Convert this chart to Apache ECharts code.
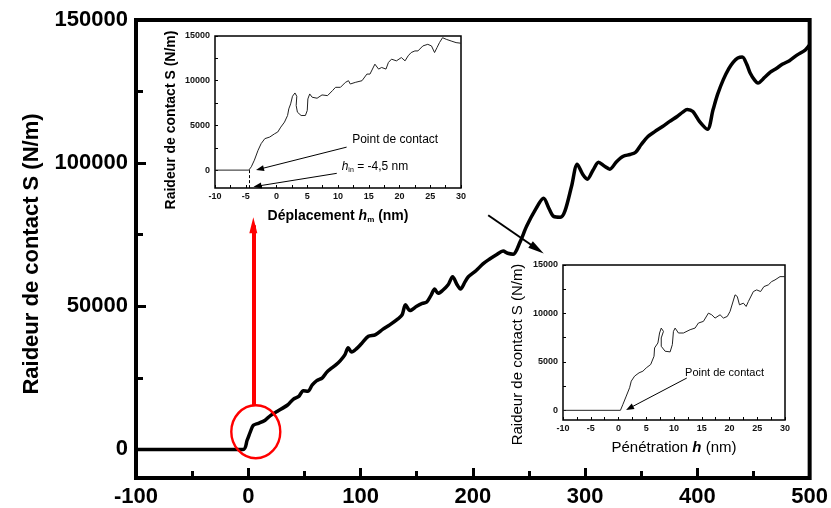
<!DOCTYPE html>
<html>
<head>
<meta charset="utf-8">
<script src="https://cdn.jsdelivr.net/npm/echarts@6/dist/echarts.min.js"></script>
<style>
  html, body { margin: 0; padding: 0; background: #fff; }
  #main { width: 831px; height: 508px; }
</style>
</head>
<body>
<div id="main"></div>
<script>
// courbe principale : raideur de contact S (N/m) en fonction du deplacement (nm)
var mainX = [-100, -4.5, -1, 2, 4.5, 9, 15, 20, 26, 35, 40, 45, 49, 53, 57, 61, 66, 70, 73, 78,
  82, 86, 89, 92, 96, 101, 107, 113, 120, 126, 133, 137, 140, 144, 150, 155, 159, 163, 166, 169,
  173, 178, 182, 186, 189, 193, 196, 203, 209, 215, 221, 227, 231, 236, 242, 248, 256, 263, 268, 272,
  278, 282, 288, 293, 298, 302, 307, 312, 317, 322, 328, 334, 340, 345, 350, 356, 362, 369, 375, 382,
  387, 391, 396, 402, 409, 414, 418, 423, 428, 432, 436, 440, 444, 447, 451, 454, 460, 465, 470, 476,
  482, 489, 496, 500];
var mainY = [0, 0, 3200, 6300, 8400, 9100, 10200, 11900, 13300, 15500, 17500, 18500, 20500, 20300, 22500, 24000, 25000, 27000, 28000, 29500,
  31000, 33000, 35500, 34000, 35000, 37000, 39500, 40000, 42000, 43500, 45500, 47000, 50500, 48500, 50000, 51000, 51500, 54000, 56000, 54500,
  55500, 57500, 60300, 57500, 56000, 58500, 60300, 62500, 64800, 66500, 68000, 69300, 68500, 68200, 72400, 78000, 83900, 87700, 84000, 81400,
  81100, 83200, 92000, 99600, 96000, 94400, 97500, 100300, 99000, 97900, 100500, 102400, 103000, 103800, 106500, 109300, 111000, 112800, 114500, 116300,
  117800, 118700, 118000, 114500, 111800, 118700, 124000, 129100, 133000, 135300, 136700, 137100, 134500, 131500, 129000, 128000, 130000, 131800, 133000, 134600,
  135800, 137800, 139500, 141300];

// encart 1 : deplacement hm
var inset1X = [-10, -4.5, -4.1, -3.6, -3.0, -2.5, -1.9, -1.1, -0.3, 0.2, 0.7, 1.3, 1.8, 2.0, 2.3, 2.6, 3.0, 3.3, 3.2, 3.4,
  4.0, 4.7, 5.0, 5.1, 5.4, 5.8, 6.6, 7.4, 8.3, 9.1, 9.6, 10.4, 11.2, 11.7, 12.0, 12.8, 13.9, 14.7, 15.2, 16.0,
  16.6, 17.1, 17.8, 18.2, 18.7, 19.5, 20.3, 20.9, 21.4, 21.9, 22.5, 23.0, 23.8, 24.6, 25.2, 25.7, 26.1, 26.5, 27.0, 27.6,
  28.4, 29.2, 30];
var inset1Y = [0, 0, 370, 1110, 2220, 2960, 3520, 3700, 4070, 4260, 4810, 5370, 6110, 6850, 7410, 8260, 8630, 8260, 7220, 6480,
  6110, 6110, 6670, 7960, 8520, 8150, 8040, 8410, 8330, 8890, 9260, 9260, 9810, 10000, 9630, 9810, 10000, 10740, 10740, 11850,
  11300, 11480, 11300, 12040, 12410, 12220, 12590, 12220, 12780, 13150, 13330, 13330, 13890, 14070, 13890, 13150, 13700, 14260, 14810, 14630,
  14440, 14260, 14190];

// encart 2 : penetration h
var inset2X = [-10, 0.35, 0.8, 1.4, 2.0, 2.3, 2.9, 3.7, 4.4, 5.0, 5.8, 6.4, 6.5, 7.1, 7.4, 7.7, 8.1, 7.7, 7.7, 8.4,
  9.3, 9.7, 9.9, 10.2, 10.8, 11.7, 12.9, 13.8, 14.4, 15.3, 16.2, 16.8, 17.4, 18.3, 18.9, 19.6, 20.1, 21.0, 21.4, 21.8,
  22.5, 23.0, 23.4, 24.3, 24.9, 25.6, 26.2, 27.0, 27.6, 28.2, 29.1, 30];
var inset2Y = [0, 0, 620, 1470, 2330, 3010, 3530, 3870, 4040, 4380, 4730, 5580, 6440, 6950, 7980, 8490, 8150, 7470, 6610, 6100,
  6030, 6780, 8150, 8490, 7980, 7980, 8320, 8490, 9010, 9180, 10030, 9860, 9520, 9860, 9520, 9690, 10210, 11920, 11750, 10890,
  11060, 10720, 11230, 12260, 12430, 12260, 12770, 12950, 13290, 13460, 13800, 13800];

// graduations
var mainXLabels = [-100, 0, 100, 200, 300, 400, 500];
var mainXMinor = [-50, 50, 150, 250, 350, 450];
var mainYLabels = [0, 50000, 100000, 150000];
var mainYMinor = [25000, 75000, 125000];
var insetXLabels = [-10, -5, 0, 5, 10, 15, 20, 25, 30];
var insetXTicks = [-10, -7.5, -5, -2.5, 0, 2.5, 5, 7.5, 10, 12.5, 15, 17.5, 20, 22.5, 25, 27.5, 30];
var insetYLabels = [0, 5000, 10000, 15000];
var insetYTicks = [0, 2500, 5000, 7500, 10000, 12500, 15000];

// annotations (coordonnees dans les unites des axes)
var redArrow = [[4.5, 15400], [4.5, 78300]];
var redCircle = [6.7, 6170];
var blackArrow = [[213.7, 81800], [257.3, 70000]];
var inset1Contact = -4.5; // h_in = -4,5 nm
var inset1Arrow1 = [[11.4, 2570], [-2.7, 120]];
var inset1Arrow2 = [[9.8, -360], [-3.1, -1790]];
var inset1Text1 = [12.3, 3370];
var inset1Text2 = [10.6, 350];
var inset2Arrow = [[12.3, 3330], [2.0, 230]];
var inset2Text = [12.0, 3850];

var FONT = "'Liberation Sans', Arial, sans-serif";

// cadres des trois reperes
var G0 = { left: 136, top: 20, width: 674, height: 460, xMin: -100, xMax: 500, yMin: -10000, yMax: 150000 };
var G1 = { left: 215, top: 36, width: 246, height: 152, xMin: -10, xMax: 30, yMin: -2000, yMax: 15000 };
var G2 = { left: 563, top: 265, width: 222, height: 155, xMin: -10, xMax: 30, yMin: -1000, yMax: 15000 };

function zip(xs, ys) {
  var out = [];
  for (var i = 0; i < xs.length; i++) out.push([xs[i], ys[i]]);
  return out;
}
// pas de separateur de milliers
function plain(v) { return String(v); }

// graduations interieures sous forme de segments (longueur donnee en pixels)
function tickLines(g, xVals, yVals, lenPx, width) {
  var dx = lenPx * (g.xMax - g.xMin) / g.width;
  var dy = lenPx * (g.yMax - g.yMin) / g.height;
  var st = { color: '#000', width: width, type: 'solid' };
  var out = [];
  xVals.forEach(function (v) {
    out.push([{ coord: [v, g.yMin], symbol: 'none', lineStyle: st }, { coord: [v, g.yMin + dy], symbol: 'none' }]);
  });
  yVals.forEach(function (v) {
    out.push([{ coord: [g.xMin, v], symbol: 'none', lineStyle: st }, { coord: [g.xMin + dx, v], symbol: 'none' }]);
  });
  return out;
}

(function () {
  var myChart = echarts.init(document.getElementById('main'));

  function labelAxis(dim, grid, g, values, size, margin, extra) {
    var ax = {
      type: 'value', gridIndex: grid,
      min: dim === 'x' ? g.xMin : g.yMin, max: dim === 'x' ? g.xMax : g.yMax,
      position: dim === 'x' ? 'bottom' : 'left',
      axisLine: { show: false, onZero: false },
      axisTick: { show: false },
      axisLabel: { fontSize: size, fontWeight: 'bold', color: size > 12 ? '#000' : '#111', margin: margin,
        fontFamily: FONT, customValues: values, formatter: plain },
      splitLine: { show: false }
    };
    for (var k in extra) ax[k] = extra[k];
    return ax;
  }
  // axe ne portant que des graduations interieures
  function tickAxis(dim, grid, g, values, len, width, labelsToo) {
    return {
      type: 'value', gridIndex: grid,
      min: dim === 'x' ? g.xMin : g.yMin, max: dim === 'x' ? g.xMax : g.yMax,
      position: dim === 'x' ? 'bottom' : 'left',
      axisLine: { show: false, onZero: false },
      axisTick: { show: true, inside: true, length: len, customValues: values, lineStyle: { color: '#000', width: width } },
      axisLabel: labelsToo ? { show: true, customValues: values, color: 'rgba(0,0,0,0)' } : { show: false },
      splitLine: { show: false }
    };
  }
  function gridOf(g, extra) {
    var o = { left: g.left, top: g.top, width: g.width, height: g.height, show: true, borderColor: '#000' };
    for (var k in extra) o[k] = extra[k];
    return o;
  }

  var mainMarks = [
    [{ coord: redArrow[0], symbolSize: [15, 15], lineStyle: { color: '#ff0000', width: 4, type: 'solid' }, itemStyle: { color: '#ff0000' } },
     { coord: redArrow[1] }],
    [{ coord: blackArrow[0], symbolSize: [14, 16], lineStyle: { color: '#000', width: 2, type: 'solid' }, itemStyle: { color: '#000' } },
     { coord: blackArrow[1] }]
  ].concat(tickLines(G0, mainXLabels, mainYLabels, 10, 3), tickLines(G0, mainXMinor, mainYMinor, 7, 3));

  var inset1Marks = [
    [{ coord: inset1Arrow1[0] }, { coord: inset1Arrow1[1] }],
    [{ coord: inset1Arrow2[0] }, { coord: inset1Arrow2[1] }],
    [{ coord: [inset1Contact, 0], lineStyle: { type: [3, 2], width: 1, color: '#000' } },
     { coord: [inset1Contact, G1.yMin], symbol: 'none' }]
  ].concat(tickLines(G1, insetXTicks, insetYTicks, 3, 1));

  var inset2Marks = [
    [{ coord: inset2Arrow[0] }, { coord: inset2Arrow[1] }]
  ].concat(tickLines(G2, insetXTicks, insetYTicks, 3, 1));

  var option = {
    animation: false,
    backgroundColor: '#fff',
    textStyle: { fontFamily: FONT },
    grid: [
      gridOf(G0, { borderWidth: 4 }),
      gridOf(G1, { backgroundColor: '#fff', borderWidth: 1.5, z: 5 }),
      gridOf(G2, { backgroundColor: '#fff', borderWidth: 1.5, z: 5 })
    ],
    xAxis: [
      labelAxis('x', 0, G0, mainXLabels, 22, 8, {}),
      labelAxis('x', 1, G1, insetXLabels, 9, 4, {
        name: 'Déplacement {i|h}{s|m} (nm)', nameLocation: 'middle', nameGap: 20,
        nameTextStyle: {
          fontSize: 14, fontWeight: 'bold', color: '#000', fontFamily: FONT,
          rich: {
            i: { fontSize: 14, fontWeight: 'bold', fontStyle: 'italic', fontFamily: FONT },
            s: { fontSize: 8, fontWeight: 'bold', fontFamily: FONT, padding: [8, 0, 0, 0] }
          }
        }
      }),
      labelAxis('x', 2, G2, insetXLabels, 9, 4, {
        name: 'Pénétration {i|h} (nm)', nameLocation: 'middle', nameGap: 20,
        nameTextStyle: {
          fontSize: 15, color: '#000', fontFamily: FONT,
          rich: { i: { fontSize: 15, fontWeight: 'bold', fontStyle: 'italic', fontFamily: FONT } }
        }
      }),
      tickAxis('x', 0, G0, mainXLabels, 10, 3),
      tickAxis('x', 0, G0, mainXMinor, 7, 3),
      tickAxis('x', 1, G1, insetXTicks, 3, 1),
      tickAxis('x', 2, G2, insetXTicks, 3, 1)
    ],
    yAxis: [
      labelAxis('y', 0, G0, mainYLabels, 22, 8, {
        name: 'Raideur de contact S (N/m)', nameLocation: 'middle', nameGap: 93,
        nameTextStyle: { fontSize: 22, fontWeight: 'bold', color: '#000', fontFamily: FONT, padding: [0, 10, 0, 0] }
      }),
      labelAxis('y', 1, G1, insetYLabels, 9, 5, {
        name: 'Raideur de contact S (N/m)', nameLocation: 'middle', nameGap: 37,
        nameTextStyle: { fontSize: 14, fontWeight: 'bold', color: '#000', fontFamily: FONT, padding: [0, 16, 0, 0] }
      }),
      labelAxis('y', 2, G2, insetYLabels, 9, 5, {
        name: 'Raideur de contact S (N/m)', nameLocation: 'middle', nameGap: 38,
        nameTextStyle: { fontSize: 15, color: '#000', fontFamily: FONT, padding: [0, 24, 0, 0] }
      }),
      tickAxis('y', 0, G0, mainYMinor, 7, 3),
      tickAxis('y', 1, G1, insetYTicks, 3, 1),
      tickAxis('y', 2, G2, insetYTicks, 3, 1),
      tickAxis('y', 0, G0, mainYLabels, 10, 3, true)
    ],
    series: [
      {
        name: 'S', type: 'line', xAxisIndex: 0, yAxisIndex: 0,
        data: zip(mainX, mainY),
        showSymbol: false, smooth: 0.3,
        lineStyle: { color: '#000', width: 3.5 },
        markLine: {
          silent: true, symbol: ['none', 'triangle'],
          label: { show: false },
          data: mainMarks
        },
        markPoint: {
          silent: true,
          label: { show: false },
          data: [{
            coord: redCircle, symbol: 'circle', symbolSize: [49, 53],
            itemStyle: { color: 'rgba(0,0,0,0)', borderColor: '#ff0000', borderWidth: 2.5 }
          }]
        }
      },
      {
        name: 'encart1', type: 'line', xAxisIndex: 1, yAxisIndex: 1, z: 6,
        data: zip(inset1X, inset1Y),
        showSymbol: false,
        lineStyle: { color: '#222', width: 1 },
        markLine: {
          silent: true, symbol: ['none', 'triangle'], symbolSize: [6, 8],
          label: { show: false },
          lineStyle: { color: '#000', width: 1, type: 'solid' },
          data: inset1Marks
        },
        markPoint: {
          silent: true, symbolSize: 0,
          data: [
            { coord: inset1Text1, label: { show: true, position: 'right', distance: 0, formatter: 'Point de contact', fontSize: 12, color: '#000', fontFamily: FONT } },
            { coord: inset1Text2, label: {
                show: true, position: 'right', distance: 0, formatter: '{i|h}{s|in}{t| = -4,5 nm}', color: '#000',
                rich: {
                  i: { fontSize: 12, fontStyle: 'italic', fontFamily: FONT },
                  s: { fontSize: 7, fontFamily: FONT, padding: [7, 0, 0, 0] },
                  t: { fontSize: 12, fontFamily: FONT }
                }
              } }
          ]
        }
      },
      {
        name: 'encart2', type: 'line', xAxisIndex: 2, yAxisIndex: 2, z: 6,
        data: zip(inset2X, inset2Y),
        showSymbol: false,
        lineStyle: { color: '#222', width: 1 },
        markLine: {
          silent: true, symbol: ['none', 'triangle'], symbolSize: [6, 8],
          label: { show: false },
          lineStyle: { color: '#000', width: 1, type: 'solid' },
          data: inset2Marks
        },
        markPoint: {
          silent: true, symbolSize: 0,
          data: [
            { coord: inset2Text, label: { show: true, position: 'right', distance: 0, formatter: 'Point de contact', fontSize: 11, color: '#000', fontFamily: FONT } }
          ]
        }
      }
    ]
  };

  myChart.setOption(option);
  window.addEventListener('resize', function () {
    myChart.resize();
  });
})();
</script>
</body>
</html>
